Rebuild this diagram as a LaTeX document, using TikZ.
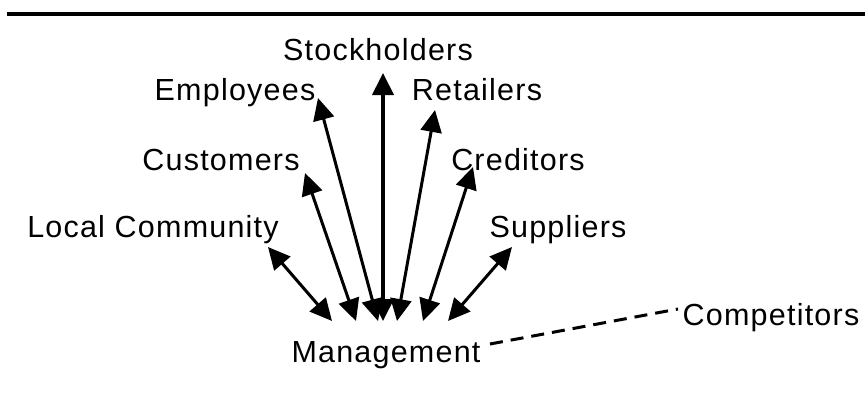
\documentclass[tikz,border=0pt]{standalone}
\usepackage{fontspec}
\setmainfont{Liberation Sans}[LetterSpace=4]
\usetikzlibrary{arrows.meta}
\begin{document}
\begin{tikzpicture}[x=1pt,y=-1pt,
  lbl/.style={anchor=base,inner sep=0pt,font=\fontsize{30.5}{34}\selectfont},
  arr/.style={line width=3pt,{Triangle[length=22pt,width=21pt]}-{Triangle[length=22pt,width=21pt]}},
  thickarr/.style={arr,line width=4pt},
  dashline/.style={line width=3pt,dash pattern=on 13pt off 8pt}]
\useasboundingbox (0,0) rectangle (865,407);
\draw[line width=4.3pt] (7,14) -- (865,14);
% labels
\node[lbl] (stock) at (378,60) {Stockholders};
\node[lbl] (empl) at (235,100) {Employees};
\node[lbl] (ret) at (477,100) {Retailers};
\node[lbl] (cust) at (221,170) {Customers};
\node[lbl] (cred) at (518,170) {Creditors};
\node[lbl] (local) at (153,237) {Local Community};
\node[lbl] (supp) at (558,237) {Suppliers};
\node[lbl] (mgmt) at (386,362) {Management};
\node[lbl] (comp) at (771,325) {Competitors};
% arrow ends
\coordinate (localT) at (268,247); \coordinate (localB) at (332,321);
\coordinate (custT) at (305,173);  \coordinate (custB) at (356,321);
\coordinate (emplT) at (318,98);   \coordinate (emplB) at (378,321);
\coordinate (stockT) at (383,73);  \coordinate (stockB) at (383,321);
\coordinate (retT) at (435,110);   \coordinate (retB) at (397,321);
\coordinate (credT) at (473,167);  \coordinate (credB) at (423,321);
\coordinate (suppT) at (512,247);  \coordinate (suppB) at (448,321);
\coordinate (dashA) at (490,344);  \coordinate (dashB) at (678,309);
\draw[arr] (localT) -- (localB);
\draw[arr] (custT) -- (custB);
\draw[arr] (emplT) -- (emplB);
\draw[thickarr] (stockT) -- (stockB);
\draw[arr] (retT) -- (retB);
\draw[arr] (credT) -- (credB);
\draw[arr] (suppT) -- (suppB);
\draw[dashline] (dashA) -- (dashB);
\end{tikzpicture}
\end{document}
